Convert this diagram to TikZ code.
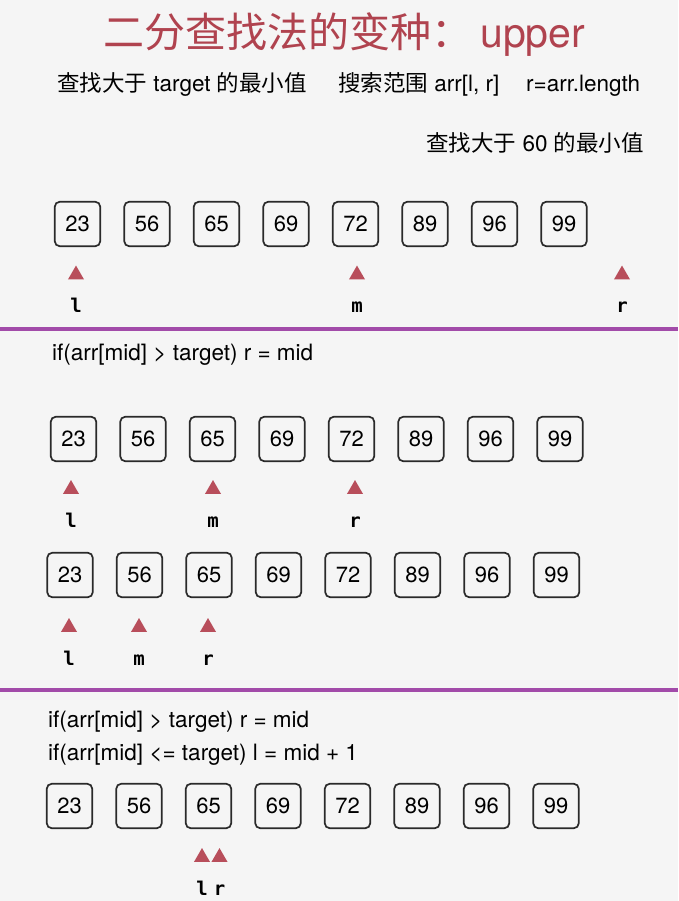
\documentclass[tikz,border=0pt]{standalone}
\usepackage{fontspec}
\setmainfont{TeX Gyre Heros}
\setmonofont{DejaVu Sans Mono}
\newfontfamily\cjk{Noto Sans CJK SC}
\usepackage{xcolor}
\usepackage{tikz}
\usetikzlibrary{shapes.geometric, positioning}
\definecolor{titlered}{HTML}{B0434F}
\definecolor{ptrred}{HTML}{B84E5B}
\definecolor{purpleline}{HTML}{A24BA9}
\definecolor{bggray}{HTML}{F5F5F5}
\definecolor{boxgray}{HTML}{2A2A2A}
\tikzset{
node distance=69.5pt, % distance between two cells of the array
cell/.style={draw=boxgray, line width=1.7pt, rounded corners=5pt, minimum width=45.5pt, minimum height=44.5pt, inner sep=0pt, font=\fontsize{22}{26}\selectfont}, % one cell of the array
pointer/.style={regular polygon, regular polygon sides=3, fill=ptrred, inner sep=0pt, minimum size=18.5pt}, % the red mark under a cell
ptrlabel/.style={font=\ttfamily\bfseries\fontsize{19}{21}\selectfont, inner sep=0pt, text height=14pt, text depth=0pt}, % name of the mark
codeline/.style={anchor=base west, inner sep=0pt, font=\fontsize{22.5}{26}\selectfont}, % a line of text
divider/.style={draw=purpleline, line width=4.5pt}, % the purple line between the steps
}

\begin{document}
\begin{tikzpicture}[x=1pt, y=-1pt]
        \fill[bggray] (0,0) rectangle (678,901);
        \useasboundingbox (0,0) rectangle (678,901);

        % title and task
        \node[anchor=base west, inner sep=0pt, text=titlered, font=\fontsize{41}{44}\selectfont] (title) at (103,48) {{\cjk 二分查找法的变种：}\hspace{8pt}upper};
        \node[codeline] (task) at (57,92) {{\cjk 查找大于} target {\cjk 的最小值}};
        \node[codeline] (range) at (338,92) {{\cjk 搜索范围} arr[l, r]};
        \node[codeline] (init) at (526,92) {r=arr.length};
        \node[codeline, anchor=base east] (goal) at (644,152) {{\cjk 查找大于} 60 {\cjk 的最小值}};

        % step 1
        \node[cell] (a1) at (77.5,224) {23};
        \node[cell, right of=a1] (a2) {56};
        \node[cell, right of=a2] (a3) {65};
        \node[cell, right of=a3] (a4) {69};
        \node[cell, right of=a4] (a5) {72};
        \node[cell, right of=a5] (a6) {89};
        \node[cell, right of=a6] (a7) {96};
        \node[cell, right of=a7] (a8) {99};
        \node[pointer] (l1) at (76,274.8) {};
        \node[pointer] (m1) at (357,274.8) {};
        \node[pointer] (r1) at (622,274.8) {};
        \node[ptrlabel, below=19pt of l1] (nl1) {l};
        \node[ptrlabel, below=19pt of m1] (nm1) {m};
        \node[ptrlabel, below=19pt of r1] (nr1) {r};

        \draw[divider] (0,329) -- (678,329);

        % step 2
        \node[codeline] (rule1) at (52,360) {if(arr[mid] > target) r = mid};
        \node[cell] (b1) at (73.5,439) {23};
        \node[cell, right of=b1] (b2) {56};
        \node[cell, right of=b2] (b3) {65};
        \node[cell, right of=b3] (b4) {69};
        \node[cell, right of=b4] (b5) {72};
        \node[cell, right of=b5] (b6) {89};
        \node[cell, right of=b6] (b7) {96};
        \node[cell, right of=b7] (b8) {99};
        \node[pointer] (l2) at (71,489.3) {};
        \node[pointer] (m2) at (213,489.3) {};
        \node[pointer] (r2) at (355,489.3) {};
        \node[ptrlabel, below=19pt of l2] (nl2) {l};
        \node[ptrlabel, below=19pt of m2] (nm2) {m};
        \node[ptrlabel, below=19pt of r2] (nr2) {r};

        % step 3
        \node[cell] (c1) at (70,575) {23};
        \node[cell, right of=c1] (c2) {56};
        \node[cell, right of=c2] (c3) {65};
        \node[cell, right of=c3] (c4) {69};
        \node[cell, right of=c4] (c5) {72};
        \node[cell, right of=c5] (c6) {89};
        \node[cell, right of=c6] (c7) {96};
        \node[cell, right of=c7] (c8) {99};
        \node[pointer] (l3) at (69,627.3) {};
        \node[pointer] (m3) at (139,627.3) {};
        \node[pointer] (r3) at (208,627.3) {};
        \node[ptrlabel, below=19pt of l3] (nl3) {l};
        \node[ptrlabel, below=19pt of m3] (nm3) {m};
        \node[ptrlabel, below=19pt of r3] (nr3) {r};

        \draw[divider] (0,690) -- (678,690);

        % step 4
        \node[codeline] (rule2) at (48,727) {if(arr[mid] > target) r = mid};
        \node[codeline] (rule3) at (48,760) {if(arr[mid] <= target) l = mid + 1};
        \node[cell] (d1) at (69.5,806) {23};
        \node[cell, right of=d1] (d2) {56};
        \node[cell, right of=d2] (d3) {65};
        \node[cell, right of=d3] (d4) {69};
        \node[cell, right of=d4] (d5) {72};
        \node[cell, right of=d5] (d6) {89};
        \node[cell, right of=d6] (d7) {96};
        \node[cell, right of=d7] (d8) {99};
        \node[pointer] (l4) at (202,857.3) {};
        \node[pointer] (r4) at (219.5,857.3) {};
        \node[ptrlabel, below=19pt of l4] (nl4) {l};
        \node[ptrlabel, below=19pt of r4] (nr4) {r};
    \end{tikzpicture}
\end{document}
